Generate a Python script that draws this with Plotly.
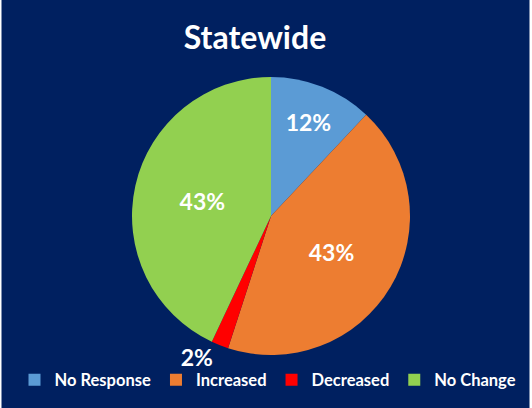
import plotly.graph_objects as go

# Survey response shares, statewide
categories = ["No Response", "Increased", "Decreased", "No Change"]
shares = [12, 43, 2, 43]
colors = ["#5B9BD5", "#ED7D31", "#FF0000", "#92D050"]
text_positions = ["inside", "inside", "outside", "inside"]

W, H = 532, 408
navy = "#002060"

label_font = dict(family="Lato", size=23, color="white", weight="bold")

fig = go.Figure(
    go.Pie(
        labels=categories,
        values=shares,
        sort=False,
        direction="clockwise",
        rotation=0,
        marker=dict(colors=colors, line=dict(width=0)),
        textinfo="percent",
        texttemplate="%{value}%",
        textposition=text_positions,
        insidetextorientation="horizontal",
        textfont=label_font,
        outsidetextfont=label_font,
        domain=dict(x=[132 / W, 410 / W], y=[1 - 355 / H, 1 - 77 / H]),
        hoverinfo="label+percent",
    )
)

fig.update_layout(
    width=W,
    height=H,
    margin=dict(l=0, r=0, t=0, b=0),
    paper_bgcolor=navy,
    plot_bgcolor=navy,
    title=dict(
        text="<b>Statewide</b>",
        x=255 / W,
        xanchor="center",
        y=1 - 38 / H,
        yanchor="middle",
        font=dict(family="Lato", size=32, color="white"),
    ),
    legend=dict(
        orientation="h",
        x=268 / W,
        xanchor="center",
        y=1 - 380 / H,
        yanchor="middle",
        font=dict(family="Lato", size=16.5, color="white", weight="bold"),
        itemwidth=30,
        tracegroupgap=0,
        bgcolor="rgba(0,0,0,0)",
    ),
    showlegend=True,
    shapes=[
        dict(type="rect", xref="paper", yref="paper", x0=0, x1=1.5 / W, y0=0, y1=1,
             fillcolor="white", line=dict(width=0), layer="above"),
        dict(type="rect", xref="paper", yref="paper", x0=1 - 2.5 / W, x1=1, y0=0, y1=1,
             fillcolor="white", line=dict(width=0), layer="above"),
    ],
)

fig.write_html("out.html")
